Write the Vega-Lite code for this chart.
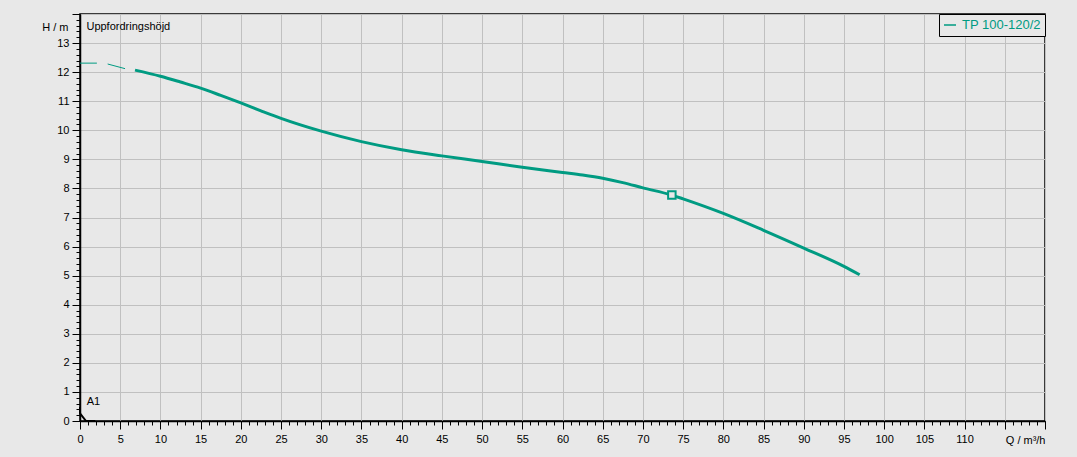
{
  "$schema": "https://vega.github.io/schema/vega-lite/v6.json",
  "width": 965,
  "height": 407,
  "autosize": {"type": "none"},
  "padding": {"left": 80, "top": 14, "right": 32, "bottom": 36},
  "background": "#e8e8e8",
  "config": {
    "view": {"stroke": "black", "strokeWidth": 1.5, "fill": "#e8e8e8"},
    "font": "Liberation Sans",
    "axis": {
      "labelFont": "Liberation Sans",
      "labelFontSize": 11,
      "labelColor": "black",
      "titleFont": "Liberation Sans",
      "titleFontSize": 11,
      "titleFontWeight": "normal",
      "titleColor": "black",
      "tickColor": "black",
      "domainColor": "black",
      "gridColor": "#c0c0c0",
      "gridWidth": 1
    }
  },
  "datasets": {
    "main": [
      {"Q": 6.84, "H": 12.07},
      {"Q": 10, "H": 11.86},
      {"Q": 12.5, "H": 11.66},
      {"Q": 15, "H": 11.45},
      {"Q": 17.5, "H": 11.2},
      {"Q": 20, "H": 10.94},
      {"Q": 22.5, "H": 10.67},
      {"Q": 25, "H": 10.41},
      {"Q": 30, "H": 9.97},
      {"Q": 35, "H": 9.61},
      {"Q": 40, "H": 9.33},
      {"Q": 45, "H": 9.12},
      {"Q": 50, "H": 8.93},
      {"Q": 55, "H": 8.73},
      {"Q": 60, "H": 8.55},
      {"Q": 62.5, "H": 8.46},
      {"Q": 65, "H": 8.35},
      {"Q": 67.5, "H": 8.2},
      {"Q": 70, "H": 8.02},
      {"Q": 73.6, "H": 7.77},
      {"Q": 75, "H": 7.64},
      {"Q": 80, "H": 7.14},
      {"Q": 85, "H": 6.56},
      {"Q": 90, "H": 5.95},
      {"Q": 95, "H": 5.32},
      {"Q": 96.95, "H": 5.03}
    ],
    "ext": [
      {"seg": "a", "Q": 0, "H": 12.31},
      {"seg": "a", "Q": 2.1, "H": 12.31},
      {"seg": "b", "Q": 3.44, "H": 12.28},
      {"seg": "b", "Q": 5.6, "H": 12.12}
    ],
    "op": [{"Q": 73.6, "H": 7.77}],
    "a1": [
      {"Q": 0, "H": 0.48},
      {"Q": 0, "H": 0.26},
      {"Q": 0.75, "H": 0.0},
      {"Q": 1.9, "H": 0.0}
    ],
    "labels": [
      {"Q": 0.8, "H": 13.54, "text": "Uppfordringshöjd"},
      {"Q": 0.83, "H": 0.64, "text": "A1"}
    ]
  },
  "layer": [
    {
      "data": {"name": "ext"},
      "mark": {"type": "line", "color": "#009b82", "strokeWidth": 1},
      "encoding": {
        "x": {
          "field": "Q", "type": "quantitative",
          "scale": {"domain": [0, 120], "nice": false, "zero": false},
          "axis": {
            "orient": "bottom",
            "values": [0,5,10,15,20,25,30,35,40,45,50,55,60,65,70,75,80,85,90,95,100,105,110,115,120],
            "labelExpr": "datum.value > 112 ? '' : datum.label",
            "grid": true,
            "tickSize": 8,
            "labelPadding": 4,
            "domainWidth": 1.5,
            "labelFlush": false,
            "labelOverlap": false,
            "title": "Q / m³/h",
            "titleAlign": "right",
            "titleAnchor": null,
            "titleX": 965,
            "titleY": 19,
            "titleBaseline": "middle",
            "titlePadding": 0
          }
        },
        "y": {
          "field": "H", "type": "quantitative",
          "scale": {"domain": [0, 14], "nice": false, "zero": false},
          "axis": {
            "orient": "left",
            "values": [0,1,2,3,4,5,6,7,8,9,10,11,12,13,14],
            "labelExpr": "datum.value > 13.5 ? '' : datum.label",
            "grid": true,
            "tickSize": 8,
            "labelPadding": 3,
            "domainWidth": 1.5,
            "labelFlush": false,
            "labelOverlap": false,
            "title": "H / m",
            "titleAngle": 0,
            "titleAlign": "right",
            "titleAnchor": null,
            "titleX": -12,
            "titleY": 13,
            "titleBaseline": "middle"
          }
        },
        "detail": {"field": "seg"}
      }
    },
    {
      "data": {"name": "main"},
      "mark": {"type": "line", "strokeWidth": 3, "interpolate": "monotone"},
      "encoding": {
        "x": {"field": "Q", "type": "quantitative", "axis": null},
        "y": {"field": "H", "type": "quantitative", "axis": null},
        "color": {
          "datum": "TP 100-120/2",
          "scale": {"range": ["#009b82"]},
          "legend": {
            "title": null,
            "orient": "top-right",
            "offset": 0,
            "strokeColor": "black",
            "fillColor": "#e8e8e8",
            "padding": 4,
            "symbolType": "stroke",
            "symbolSize": 144,
            "symbolStrokeWidth": 1.5,
            "labelColor": "#009b82",
            "labelFont": "Liberation Sans",
            "labelFontSize": 13,
            "labelOffset": 5
          }
        }
      }
    },
    {
      "data": {"name": "op"},
      "mark": {"type": "point", "shape": "square", "size": 56, "filled": false, "fill": "#e8e8e8", "fillOpacity": 1, "stroke": "#009b82", "strokeWidth": 2, "opacity": 1},
      "encoding": {
        "x": {"field": "Q", "type": "quantitative", "axis": null},
        "y": {"field": "H", "type": "quantitative", "axis": null}
      }
    },
    {
      "data": {"name": "a1"},
      "mark": {"type": "line", "color": "black", "strokeWidth": 2},
      "encoding": {
        "x": {
          "field": "Q", "type": "quantitative",
          "axis": {
            "orient": "bottom",
            "tickCount": 120,
            "labels": false,
            "grid": false,
            "domain": false,
            "tickSize": 4,
            "title": null
          }
        },
        "y": {
          "field": "H", "type": "quantitative",
          "axis": {
            "orient": "left",
            "tickCount": 70,
            "labels": false,
            "grid": false,
            "domain": false,
            "tickSize": 4,
            "title": null
          }
        }
      }
    },
    {
      "data": {"name": "labels"},
      "mark": {"type": "text", "align": "left", "baseline": "middle", "font": "Liberation Sans", "fontSize": 11, "color": "black"},
      "encoding": {
        "x": {"field": "Q", "type": "quantitative", "axis": null},
        "y": {"field": "H", "type": "quantitative", "axis": null},
        "text": {"field": "text"}
      }
    }
  ],
  "resolve": {"axis": {"x": "independent", "y": "independent"}}
}
